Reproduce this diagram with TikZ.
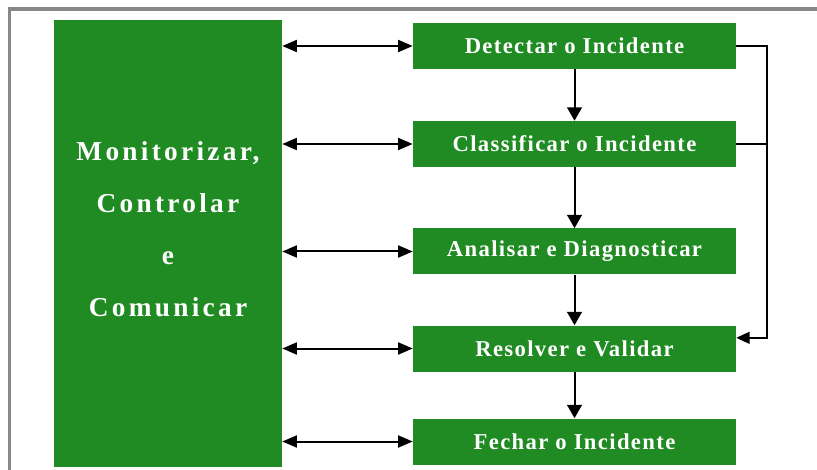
\documentclass[tikz,border=0pt]{standalone}
\usepackage{fontspec}
\setmainfont{Liberation Serif}
\newfontfamily\boxfont[LetterSpace=6]{Liberation Serif}
\newfontfamily\sidefont[LetterSpace=12]{Liberation Serif}
\usepackage{xcolor}
\usetikzlibrary{arrows.meta,positioning,calc}

\definecolor{incgreen}{RGB}{31,139,34}
\definecolor{framegray}{RGB}{136,136,136}

\tikzset{
  phase/.style={fill=incgreen, draw=none, text=white, minimum width=242.25pt, minimum height=34.5pt,
    inner sep=0pt, font=\boxfont\bfseries\fontsize{17}{20}\selectfont},
  arr/.style={line width=1.5pt, -{Triangle[length=10pt,width=11pt]}},
  dblarr/.style={line width=1.5pt, {Triangle[length=11pt,width=9pt]}-{Triangle[length=11pt,width=9pt]}},
  fbline/.style={line width=1pt}
}

\begin{document}
\begin{tikzpicture}[x=0.75pt,y=-0.75pt]
\useasboundingbox (0,0) rectangle (817,470);
% frame
\draw[framegray, line width=2.5pt] (9.5,470) -- (9.5,9) -- (817,9);

% left block
\node[fill=incgreen, minimum width=171pt, minimum height=335.25pt, inner sep=0pt] (main) at (168,243.5) {};
\node[text=white, align=center, font=\sidefont\bfseries\fontsize{20.5}{39}\selectfont] (mainlbl) at (168,229)
  {Monitorizar,\\Controlar\\e\\Comunicar};

% phases
\node[phase] (det) at (574.5,46) {Detectar o Incidente};
\node[phase] (cla) at (574.5,144) {Classificar o Incidente};
\node[phase] (ana) at (574.5,251.5) {Analisar e Diagnosticar};
\node[phase] (res) at (574.5,348.5) {Resolver e Validar};
\node[phase] (fec) at (574.5,441.5) {Fechar o Incidente};

% flow
\foreach \a/\b in {det/cla,cla/ana,ana/res,res/fec}
  \draw[arr] (\a.south) -- (\b.north);

% links to the left block
\foreach \p in {det,cla,ana,res,fec}
  \draw[dblarr] (main.east |- \p.west) -- (\p.west);

% shortcut to resolution
\coordinate (fb) at (767,0);
\draw[fbline] (cla.east) -- (cla.east -| fb);
\draw[fbline, -{Triangle[length=10pt,width=9pt]}] (det.east) -- (det.east -| fb) |- ([yshift=8pt]res.east);
\end{tikzpicture}
\end{document}
